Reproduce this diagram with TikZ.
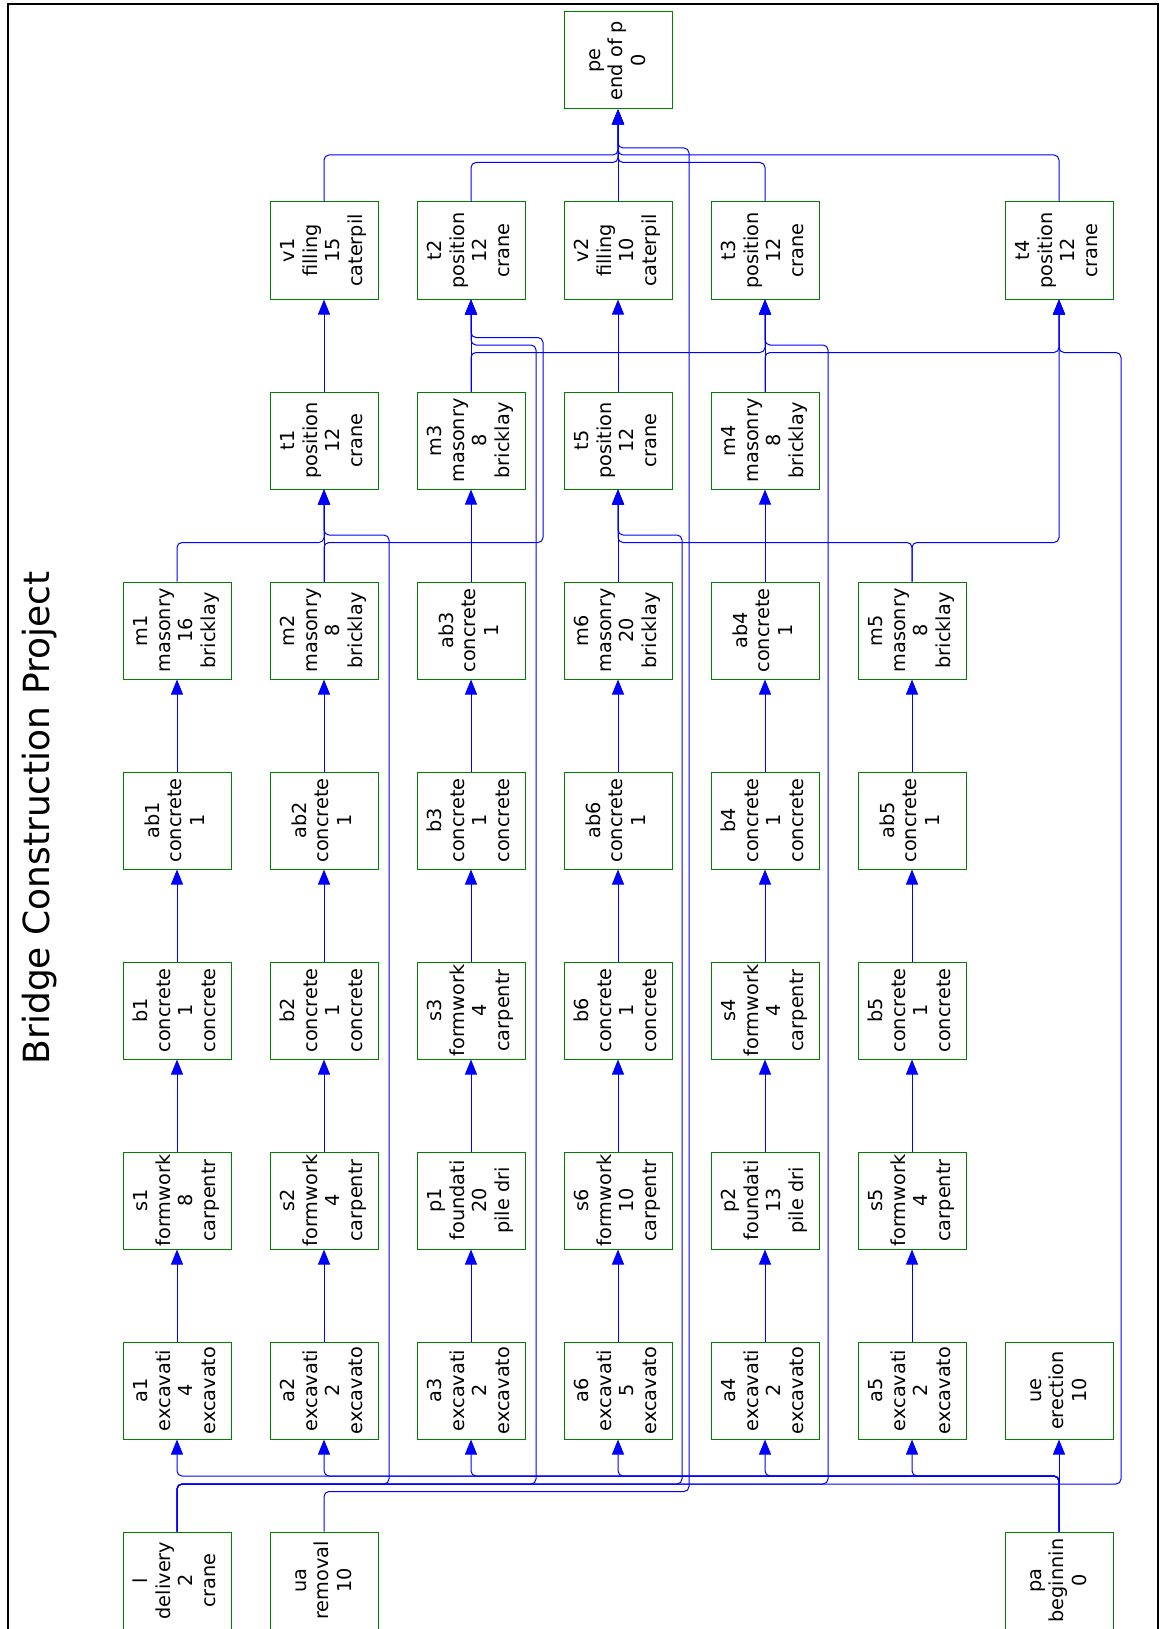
\documentclass[tikz,border=0pt]{standalone}
\usepackage{fontspec}
\setmainfont{DejaVu Sans}
\usetikzlibrary{arrows.meta}
\definecolor{boxgreen}{RGB}{0,128,0}
\definecolor{edgeblue}{RGB}{0,0,255}
\newcommand{\tasktext}[1]{\rotatebox{90}{\fontsize{19.3}{22.5}\selectfont\begin{tabular}{@{}c@{}}#1\end{tabular}}}
\begin{document}
\begin{tikzpicture}[x=1pt,y=-1pt,
  task/.style={draw=boxgreen, line width=1pt, minimum width=108pt, minimum height=97pt, inner sep=0pt, fill=white},
  edge/.style={draw=edgeblue, line width=1pt, rounded corners=5pt, -{Triangle[length=15pt,width=12pt]}}]
\useasboundingbox (0,0) rectangle (1161,1629);
\draw[line width=1.3pt] (8,1629) -- (8,4) -- (1158,4) -- (1158,1629);
\node[rotate=90, font=\fontsize{36}{40}\selectfont, inner sep=0pt] (title) at (40,818) {Bridge Construction Project};
% row 1
\node[task] (pe) at (618,60.5) {\tasktext{pe\\end of p\\0}};
% row 2
\node[task] (v1) at (324,250.5) {\tasktext{v1\\filling\\15\\caterpil}};
\node[task] (t2) at (471,250.5) {\tasktext{t2\\position\\12\\crane}};
\node[task] (v2) at (618,250.5) {\tasktext{v2\\filling\\10\\caterpil}};
\node[task] (t3) at (765,250.5) {\tasktext{t3\\position\\12\\crane}};
\node[task] (t4) at (1059,250.5) {\tasktext{t4\\position\\12\\crane}};
% row 3
\node[task] (t1) at (324,440.5) {\tasktext{t1\\position\\12\\crane}};
\node[task] (m3) at (471,440.5) {\tasktext{m3\\masonry\\8\\bricklay}};
\node[task] (t5) at (618,440.5) {\tasktext{t5\\position\\12\\crane}};
\node[task] (m4) at (765,440.5) {\tasktext{m4\\masonry\\8\\bricklay}};
% row 4
\node[task] (m1) at (177,630.5) {\tasktext{m1\\masonry\\16\\bricklay}};
\node[task] (m2) at (324,630.5) {\tasktext{m2\\masonry\\8\\bricklay}};
\node[task] (ab3) at (471,630.5) {\tasktext{ab3\\concrete\\1}};
\node[task] (m6) at (618,630.5) {\tasktext{m6\\masonry\\20\\bricklay}};
\node[task] (ab4) at (765,630.5) {\tasktext{ab4\\concrete\\1}};
\node[task] (m5) at (912,630.5) {\tasktext{m5\\masonry\\8\\bricklay}};
% row 5
\node[task] (ab1) at (177,820.5) {\tasktext{ab1\\concrete\\1}};
\node[task] (ab2) at (324,820.5) {\tasktext{ab2\\concrete\\1}};
\node[task] (b3) at (471,820.5) {\tasktext{b3\\concrete\\1\\concrete}};
\node[task] (ab6) at (618,820.5) {\tasktext{ab6\\concrete\\1}};
\node[task] (b4) at (765,820.5) {\tasktext{b4\\concrete\\1\\concrete}};
\node[task] (ab5) at (912,820.5) {\tasktext{ab5\\concrete\\1}};
% row 6
\node[task] (b1) at (177,1010.5) {\tasktext{b1\\concrete\\1\\concrete}};
\node[task] (b2) at (324,1010.5) {\tasktext{b2\\concrete\\1\\concrete}};
\node[task] (s3) at (471,1010.5) {\tasktext{s3\\formwork\\4\\carpentr}};
\node[task] (b6) at (618,1010.5) {\tasktext{b6\\concrete\\1\\concrete}};
\node[task] (s4) at (765,1010.5) {\tasktext{s4\\formwork\\4\\carpentr}};
\node[task] (b5) at (912,1010.5) {\tasktext{b5\\concrete\\1\\concrete}};
% row 7
\node[task] (s1) at (177,1200.5) {\tasktext{s1\\formwork\\8\\carpentr}};
\node[task] (s2) at (324,1200.5) {\tasktext{s2\\formwork\\4\\carpentr}};
\node[task] (p1) at (471,1200.5) {\tasktext{p1\\foundati\\20\\pile dri}};
\node[task] (s6) at (618,1200.5) {\tasktext{s6\\formwork\\10\\carpentr}};
\node[task] (p2) at (765,1200.5) {\tasktext{p2\\foundati\\13\\pile dri}};
\node[task] (s5) at (912,1200.5) {\tasktext{s5\\formwork\\4\\carpentr}};
% row 8
\node[task] (a1) at (177,1390.5) {\tasktext{a1\\excavati\\4\\excavato}};
\node[task] (a2) at (324,1390.5) {\tasktext{a2\\excavati\\2\\excavato}};
\node[task] (a3) at (471,1390.5) {\tasktext{a3\\excavati\\2\\excavato}};
\node[task] (a6) at (618,1390.5) {\tasktext{a6\\excavati\\5\\excavato}};
\node[task] (a4) at (765,1390.5) {\tasktext{a4\\excavati\\2\\excavato}};
\node[task] (a5) at (912,1390.5) {\tasktext{a5\\excavati\\2\\excavato}};
\node[task] (ue) at (1059,1390.5) {\tasktext{ue\\erection\\10}};
% row 9
\node[task] (l) at (177,1580.5) {\tasktext{l\\delivery\\2\\crane}};
\node[task] (ua) at (324,1580.5) {\tasktext{ua\\removal\\10}};
\node[task] (pa) at (1059,1580.5) {\tasktext{pa\\beginnin\\0}};
% straight column chains
\foreach \u/\v in {a1/s1,s1/b1,b1/ab1,ab1/m1,
                   a2/s2,s2/b2,b2/ab2,ab2/m2,m2/t1,t1/v1,
                   a3/p1,p1/s3,s3/b3,b3/ab3,ab3/m3,m3/t2,
                   a6/s6,s6/b6,b6/ab6,ab6/m6,m6/t5,t5/v2,v2/pe,
                   a4/p2,p2/s4,s4/b4,b4/ab4,ab4/m4,m4/t3,
                   a5/s5,s5/b5,b5/ab5,ab5/m5,
                   pa/ue}
  \draw[edge] (\u.north) -- (\v.south);
% pa -> excavations
\foreach \t in {a1,a2,a3,a6,a4,a5}
  \draw[edge] (pa.north) -- (1059,1476) -| (\t.south);
% l -> positioning
\draw[edge] (l.north) -- (177,1484) -- (389,1484) -- (389,535) -| (t1.south);
\draw[edge] (l.north) -- (177,1484) -- (536,1484) -- (536,345) -| (t2.south);
\draw[edge] (l.north) -- (177,1484) -- (682,1484) -- (682,535) -| (t5.south);
\draw[edge] (l.north) -- (177,1484) -- (828,1484) -- (828,345) -| (t3.south);
\draw[edge] (l.north) -- (177,1484) -- (1121,1484) -- (1121,352.5) -| (t4.south);
% ua -> pe
\draw[edge] (ua.north) -- (324,1491.5) -- (689,1491.5) -- (689,148) -| (pe.south);
% masonry -> positioning
\draw[edge] (m1.north) -- (177,542.5) -| (t1.south);
\draw[edge] (m2.north) -- (324,542.5) -- (543,542.5) -- (543,337.5) -| (t2.south);
\draw[edge] (m3.north) -- (471,352.5) -| (t3.south);
\draw[edge] (m4.north) -- (765,352.5) -| (t4.south);
\draw[edge] (m5.north) -- (912,542.5) -| (t5.south);
\draw[edge] (m5.north) -- (912,542.5) -| (t4.south);
% into pe
\draw[edge] (v1.north) -- (324,155) -| (pe.south);
\draw[edge] (t4.north) -- (1059,155) -| (pe.south);
\draw[edge] (t2.north) -- (471,162.5) -| (pe.south);
\draw[edge] (t3.north) -- (765,162.5) -| (pe.south);
\end{tikzpicture}
\end{document}
